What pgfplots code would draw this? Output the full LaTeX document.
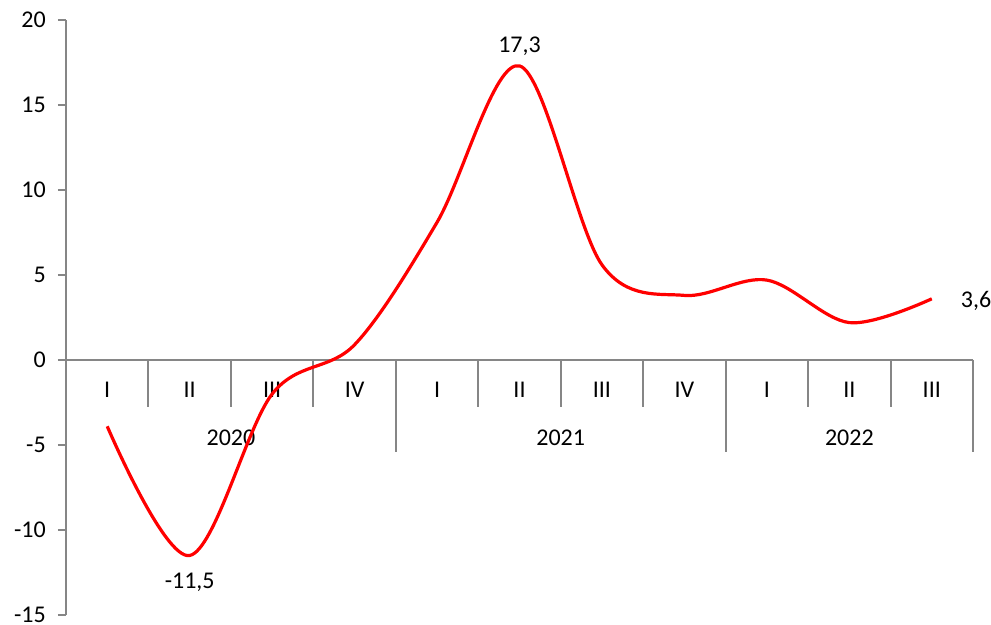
\documentclass[border=0pt]{standalone}
\usepackage{fontspec}
\setmainfont{Carlito}
\usepackage{pgfplots}
\pgfplotsset{compat=1.18}
\definecolor{axgray}{RGB}{134,134,134}
\begin{document}
\fontsize{18}{21}\selectfont
\begin{tikzpicture}
\path[use as bounding box] (-49.5pt,-6.75pt) rectangle (693.75pt,461.25pt);
\begin{axis}[
    at={(0,0)}, anchor=south west,
    scale only axis,
    width=680.25pt, height=446.25pt,
    xmin=-0.5, xmax=10.5,
    ymin=-15, ymax=20,
    axis y line=left,
    axis x line=none,
    axis line style={-, axgray, line width=1.5pt},
    ytick={-15,-10,...,20},
    tick style={axgray, line width=1.5pt},
    major tick length=6pt,
    tick align=outside,
    yticklabel style={font=\fontsize{18}{21}\selectfont, xshift=-3pt},
    /pgf/number format/assume math mode=true,
    clip=false,
]
% x axis and category separators
\draw[axgray, line width=1.5pt] (axis cs:-0.5,0) -- (axis cs:10.5,0);
\pgfplotsinvokeforeach{0.5,1.5,2.5,4.5,5.5,6.5,8.5,9.5}{
  \draw[axgray, line width=1.5pt] (axis cs:#1,0) -- (axis cs:#1,-2.76);
}
\pgfplotsinvokeforeach{3.5,7.5,10.5}{
  \draw[axgray, line width=1.5pt] (axis cs:#1,0) -- (axis cs:#1,-5.4);
}
\node at (axis cs:0,-1.76) {I};
\node at (axis cs:1,-1.76) {II};
\node at (axis cs:2,-1.76) {III};
\node at (axis cs:3,-1.76) {IV};
\node at (axis cs:4,-1.76) {I};
\node at (axis cs:5,-1.76) {II};
\node at (axis cs:6,-1.76) {III};
\node at (axis cs:7,-1.76) {IV};
\node at (axis cs:8,-1.76) {I};
\node at (axis cs:9,-1.76) {II};
\node at (axis cs:10,-1.76) {III};
\node at (axis cs:1.5,-4.55) {2020};
\node at (axis cs:5.5,-4.55) {2021};
\node at (axis cs:9,-4.55) {2022};

\addplot[red, line width=2.4pt, smooth, tension=0.55] coordinates {
    (0,-3.9) (1,-11.5) (2,-2.0) (3,0.9) (4,8.1) (5,17.3)
    (6,5.6) (7,3.8) (8,4.7) (9,2.2) (10,3.6)
};
\node at (axis cs:5,18.45) {17,3};
\node at (axis cs:1,-13.05) {-11,5};
\node[anchor=west, inner sep=0pt] at (axis cs:10.35,3.5) {3,6};
\end{axis}
\end{tikzpicture}
\end{document}
